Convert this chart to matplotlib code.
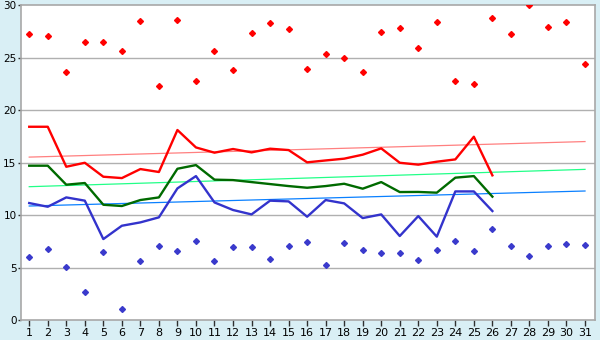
import numpy as np
import matplotlib
matplotlib.use("Agg")
import matplotlib.pyplot as plt

# Days of the month
days = list(range(1, 32))
line_days = list(range(1, 27))

# Daily extremes (scatter)
high_points = [27.2, 27.1, 23.6, 26.5, 26.5, 25.6, 28.5, 22.25, 28.6, 22.75,
               25.6, 23.8, 27.3, 28.25, 27.7, 23.95, 25.3, 25.0, 23.6, 27.4,
               27.8, 25.95, 28.4, 22.8, 22.5, 28.8, 27.2, 30.0, 27.9, 28.4, 24.35]
low_points = [5.97, 6.73, 5.02, 2.63, 6.44, 1.02, 5.59, 7.02, 6.54, 7.49,
              5.59, 6.92, 6.92, 5.78, 7.02, 7.4, 5.21, 7.3, 6.64, 6.35,
              6.35, 5.68, 6.64, 7.49, 6.54, 8.63, 7.02, 6.1, 7.02, 7.2, 7.1]

# Daily lines (days 1-26)
max_line = [18.41, 18.41, 14.6, 14.98, 13.65, 13.52, 14.38, 14.1, 18.1, 16.44,
            15.94, 16.29, 15.97, 16.32, 16.19, 15.02, 15.2, 15.37, 15.75, 16.35,
            14.98, 14.8, 15.08, 15.3, 17.46, 13.78]
mean_line = [14.7, 14.7, 12.89, 13.05, 10.98, 10.86, 11.43, 11.68, 14.41, 14.76,
             13.37, 13.33, 13.14, 12.95, 12.76, 12.6, 12.76, 12.98, 12.51, 13.14,
             12.19, 12.2, 12.13, 13.56, 13.71, 11.75]
min_line = [11.14, 10.79, 11.68, 11.37, 7.71, 8.98, 9.3, 9.78, 12.54, 13.71,
            11.2, 10.48, 10.06, 11.37, 11.3, 9.84, 11.43, 11.11, 9.71, 10.06,
            8.0, 9.9, 7.94, 12.25, 12.25, 10.38]

# Trend lines (start at day 1, end at day 31)
trend_days = [1, 31]
max_trend = [15.52, 17.0]
mean_trend = [12.7, 14.35]
min_trend = [10.86, 12.29]

bg = "#d9eff5"
fig = plt.figure(figsize=(6.0, 3.4), dpi=100, facecolor=bg)
ax = fig.add_axes([0.0345, 0.0588, 0.9572, 0.9262])
ax.set_facecolor("white")

# grid
for v in [5, 10, 15, 20, 25]:
    ax.axhline(v, color="#b0b0b0", lw=1.0, zorder=0)

# trend lines
ax.plot(trend_days, max_trend, color="#ff8080", lw=0.9, zorder=1)
ax.plot(trend_days, mean_trend, color="#22ff88", lw=0.9, zorder=1)
ax.plot(trend_days, min_trend, color="#0a80ff", lw=0.9, zorder=1)

# main lines
ax.plot(line_days, max_line, color="#ff0000", lw=1.7, zorder=3)
ax.plot(line_days, mean_line, color="#006a00", lw=1.7, zorder=3)
ax.plot(line_days, min_line, color="#3333cc", lw=1.7, zorder=3)

# scatter points
ax.plot(days, high_points, ls="none", marker="D", ms=3.0, color="#ff0000", mec="#ff0000", zorder=4)
ax.plot(days, low_points, ls="none", marker="D", ms=3.0, color="#3a3acc", mec="#3a3acc", zorder=4)

ax.set_xlim(0.54, 31.54)
ax.set_ylim(0, 30)
ax.set_xticks(days)
ax.set_yticks([0, 5, 10, 15, 20, 25, 30])
ax.tick_params(axis="x", direction="out", length=4, width=1, color="#303030",
               labelsize=8, pad=2)
ax.tick_params(axis="y", direction="out", length=2, width=1, color="#303030",
               labelsize=7.5, pad=1)
for s in ax.spines.values():
    s.set_color("#a8a8a8")
    s.set_linewidth(1.2)

fig.savefig("out.png", dpi=100, facecolor=bg)
